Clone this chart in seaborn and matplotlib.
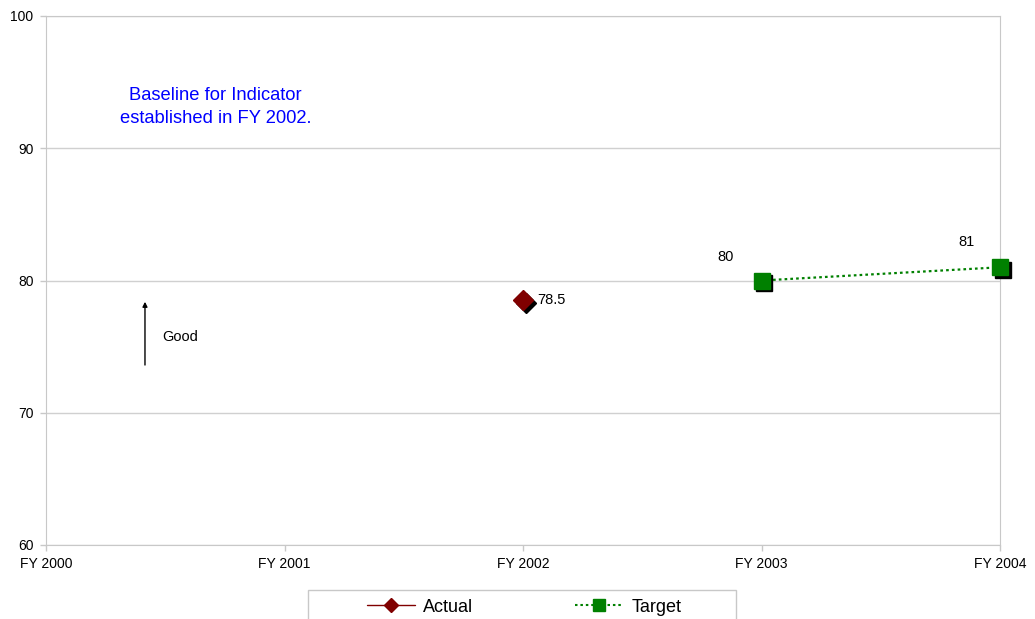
import numpy as np, pandas as pd, matplotlib
matplotlib.use("Agg")
import matplotlib.pyplot as plt
import matplotlib.transforms as mtransforms
from matplotlib.lines import Line2D
from matplotlib.patches import Rectangle
import seaborn as sns

sns.set_style("white")
plt.rcParams["font.family"] = ["Liberation Sans", "DejaVu Sans"]
plt.rcParams["text.color"] = "black"

years = ["FY 2000", "FY 2001", "FY 2002", "FY 2003", "FY 2004"]
actual_years = ["FY 2002"]
actual_vals = [78.5]
target_years = ["FY 2003", "FY 2004"]
target_vals = [80, 81]

RED = "#800000"
GREEN = "#008000"
GRAY = "#c8c8c8"

pos = {y: i for i, y in enumerate(years)}
act = pd.DataFrame({"x": [pos[y] for y in actual_years], "v": actual_vals})
tgt = pd.DataFrame({"x": [pos[y] for y in target_years], "v": target_vals})

fig = plt.figure(figsize=(10.35, 6.19), dpi=100)
ax = fig.add_axes([46/1035, 1 - 545/619, 954/1035, 529/619])

shadow = mtransforms.offset_copy(ax.transData, fig=fig, x=2.5, y=-2.5, units="dots")

# target line
sns.lineplot(data=tgt, x="x", y="v", ax=ax, color=GREEN, lw=1.6, linestyle=(0, (1.2, 1.4)), zorder=3)
ax.plot(tgt["x"], tgt["v"], ls="none", marker="s", ms=12, color="black", transform=shadow, zorder=3.5, clip_on=False)
ax.plot(tgt["x"], tgt["v"], ls="none", marker="s", ms=12, color=GREEN, zorder=4, clip_on=False)

# actual
ax.plot(act["x"], act["v"], ls="none", marker="D", ms=10, color="black", transform=shadow, zorder=3.5, clip_on=False)
ax.plot(act["x"], act["v"], ls="none", marker="D", ms=10, color=RED, zorder=4, clip_on=False)

ax.set_xlim(0, 4)
ax.set_ylim(60, 100)
ax.set_yticks([60, 70, 80, 90, 100])
ax.set_xticks(range(len(years)))
ax.set_xticklabels(years)
ax.set_xlabel(""); ax.set_ylabel("")
ax.yaxis.grid(True, color="#d0d0d0", lw=1)
ax.tick_params(axis="both", labelsize=10, length=4, width=1, color=GRAY,
               labelcolor="black", pad=5, left=True, bottom=True)
for s in ax.spines.values():
    s.set_color(GRAY)

ax.text(act["x"][0] + 0.06, act["v"][0], "78.5", fontsize=10.5, va="center", ha="left")
ax.text(tgt["x"][0] - 0.15, 81.8, "80", fontsize=10.5, va="center", ha="center")
ax.text(tgt["x"][1] - 0.14, 82.9, "81", fontsize=10.5, va="center", ha="center")

ax.text(0.71, 93.15, "Baseline for Indicator\nestablished in FY 2002.", color="#0000ff",
        fontsize=13.2, ha="center", va="center", linespacing=1.45)
ax.annotate("", xy=(0.415, 78.6), xytext=(0.415, 73.4),
            arrowprops=dict(arrowstyle="-|>", color="black", lw=1, mutation_scale=7))
ax.text(0.487, 75.7, "Good", fontsize=10.5, va="center", ha="left")

# legend box (cut off at the bottom like the reference)
fig.patches.append(Rectangle((308/1035, -0.02), 428/1035, 0.02 + 29/619, transform=fig.transFigure,
                             facecolor="white", edgecolor=GRAY, lw=1))
handles = [Line2D([], [], color=RED, marker="D", ms=7, lw=1),
           Line2D([], [], color=GREEN, marker="s", ms=8, lw=1.5, linestyle=(0, (1.2, 1.4)))]
leg = fig.legend(handles, ["Actual", "Target"], loc="center", ncol=2,
                 bbox_to_anchor=(524/1035, 1 - 607/619), frameon=False,
                 fontsize=13, columnspacing=5.6, handlelength=2.7, handletextpad=0.45,
                 borderpad=0, borderaxespad=0)

fig.savefig("out.png", dpi=100)
